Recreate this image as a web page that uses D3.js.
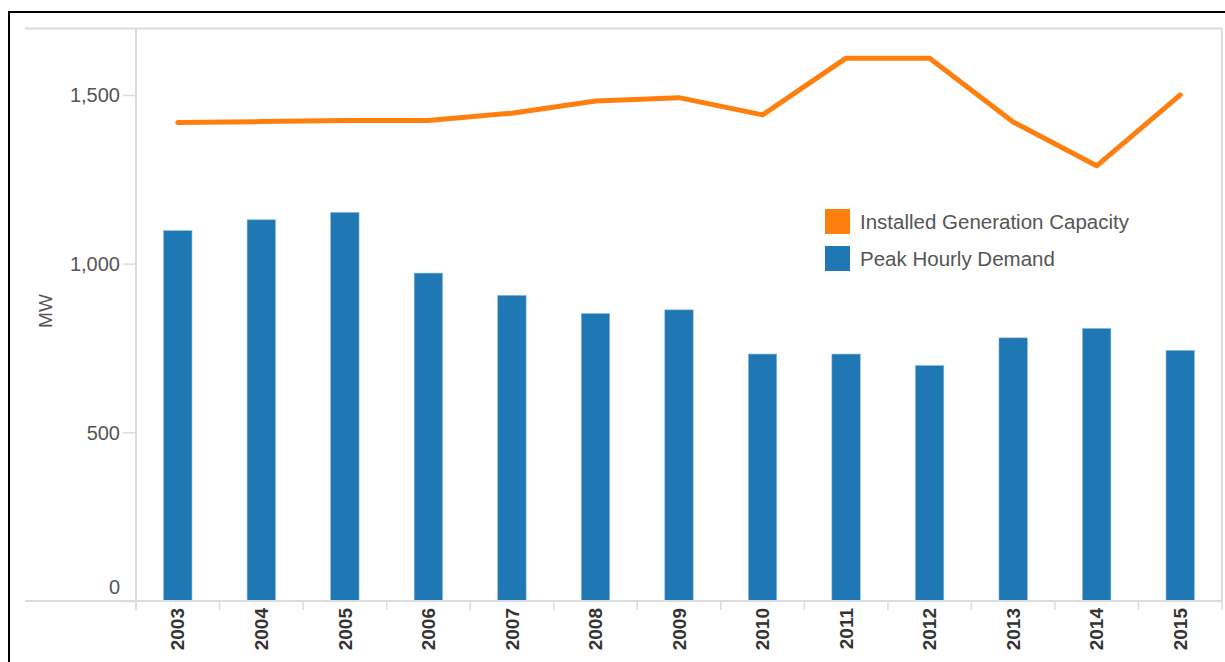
<!DOCTYPE html>
<html>
<head>
<meta charset="utf-8">
<script src="https://cdn.jsdelivr.net/npm/d3@7"></script>
<style>
  body { margin: 0; background: #fff; }
  svg text { font-family: Arial, "Liberation Sans", sans-serif; }
</style>
</head>
<body>
<div id="chart"></div>
<script>
// data
var years = ["2003", "2004", "2005", "2006", "2007", "2008", "2009", "2010", "2011", "2012", "2013", "2014", "2015"];
var capacity = [1418, 1421, 1424, 1424, 1446, 1482, 1492, 1441, 1609, 1609, 1420, 1290, 1500];
var demand = [1098, 1130, 1152, 972, 906, 852, 863, 732, 732, 698, 780, 808, 743];
var yTicks = [0, 500, 1000, 1500];
var legendLabels = ["Installed Generation Capacity", "Peak Hourly Demand"];
var colors = ["#ff7f0e", "#1f77b4"];

var width = 1225, height = 662;
// plot edges (don't call these top/left, window.top is read-only)
var plotL = 136, plotR = 1222, plotT = 28.5, plotB = 601;

var svg = d3.select("#chart").append("svg")
    .attr("width", width)
    .attr("height", height);

// outer black frame (runs off the right and bottom edges)
svg.append("rect")
    .attr("x", 9).attr("y", 12)
    .attr("width", width).attr("height", height)
    .attr("fill", "none")
    .attr("stroke", "#000")
    .attr("stroke-width", 2);

var x = d3.scaleBand().domain(years).range([plotL, plotR]);
var y = d3.scaleLinear().domain([0, 1697]).range([plotB, plotT]);

// frame lines
var grid = "#dcdcdc";
svg.append("line").attr("x1", 25).attr("x2", plotR).attr("y1", plotT).attr("y2", plotT).attr("stroke", grid).attr("stroke-width", 2);
svg.append("line").attr("x1", plotR).attr("x2", plotR).attr("y1", plotT).attr("y2", plotB).attr("stroke", grid).attr("stroke-width", 2);

// y axis
var yAxis = svg.append("g")
    .attr("transform", "translate(" + plotL + ",0)")
    .call(d3.axisLeft(y).tickValues(yTicks).tickSize(13).tickPadding(3).tickFormat(d3.format(",")));
yAxis.select(".domain").remove();
yAxis.selectAll(".tick line").attr("stroke", grid).attr("stroke-width", 1.5);
yAxis.selectAll(".tick text")
    .attr("fill", "#555")
    .style("font-size", "20px")
    .attr("dy", function (d) { return d === 0 ? "-0.4em" : "0.35em"; });
svg.append("line").attr("x1", plotL).attr("x2", plotL).attr("y1", plotT).attr("y2", plotB + 9).attr("stroke", grid).attr("stroke-width", 2);

svg.append("text")
    .attr("transform", "translate(52,311) rotate(-90)")
    .attr("text-anchor", "middle")
    .attr("fill", "#555")
    .style("font-size", "19px")
    .text("MW");

// bars
var barW = x.step() * 0.34;
svg.selectAll(".bar")
    .data(demand)
    .enter().append("rect")
    .attr("class", "bar")
    .attr("x", function (d, i) { return x(years[i]) + x.step() / 2 - barW / 2; })
    .attr("y", function (d) { return y(d); })
    .attr("width", barW)
    .attr("height", function (d) { return y(0) - y(d); })
    .attr("fill", colors[1])
    .attr("stroke", "#8dbbe0")
    .attr("stroke-width", 0.6);

// baseline and x ticks
svg.append("line").attr("x1", 25).attr("x2", plotR).attr("y1", plotB).attr("y2", plotB).attr("stroke", grid).attr("stroke-width", 2);
svg.selectAll(".xtick")
    .data(years.slice(1))
    .enter().append("line")
    .attr("x1", function (d) { return x(d); })
    .attr("x2", function (d) { return x(d); })
    .attr("y1", plotB).attr("y2", plotB + 9)
    .attr("stroke", grid).attr("stroke-width", 1.5);
svg.append("line").attr("x1", plotR).attr("x2", plotR).attr("y1", plotB).attr("y2", plotB + 9).attr("stroke", grid).attr("stroke-width", 1.5);

svg.selectAll(".year")
    .data(years)
    .enter().append("text")
    .attr("class", "year")
    .attr("transform", function (d) { return "translate(" + (x(d) + x.step() / 2) + "," + (plotB + 7) + ") rotate(-90)"; })
    .attr("text-anchor", "end")
    .attr("dy", "0.35em")
    .attr("fill", "#333")
    .style("font-size", "19px")
    .style("font-weight", "600")
    .text(function (d) { return d; });

// capacity line
var line = d3.line()
    .x(function (d, i) { return x(years[i]) + x.step() / 2; })
    .y(function (d) { return y(d); });

svg.append("path")
    .datum(capacity)
    .attr("d", line)
    .attr("fill", "none")
    .attr("stroke", colors[0])
    .attr("stroke-width", 5)
    .attr("stroke-linejoin", "round")
    .attr("stroke-linecap", "round");

// legend
var legend = svg.selectAll(".legend")
    .data(legendLabels)
    .enter().append("g")
    .attr("class", "legend")
    .attr("transform", function (d, i) { return "translate(825," + (209 + i * 37) + ")"; });
legend.append("rect")
    .attr("width", 25).attr("height", 25)
    .attr("fill", function (d, i) { return colors[i]; });
legend.append("text")
    .attr("x", 35).attr("y", 12.5)
    .attr("dy", "0.35em")
    .attr("fill", "#555")
    .style("font-size", "20.5px")
    .text(function (d) { return d; });
</script>
</body>
</html>
